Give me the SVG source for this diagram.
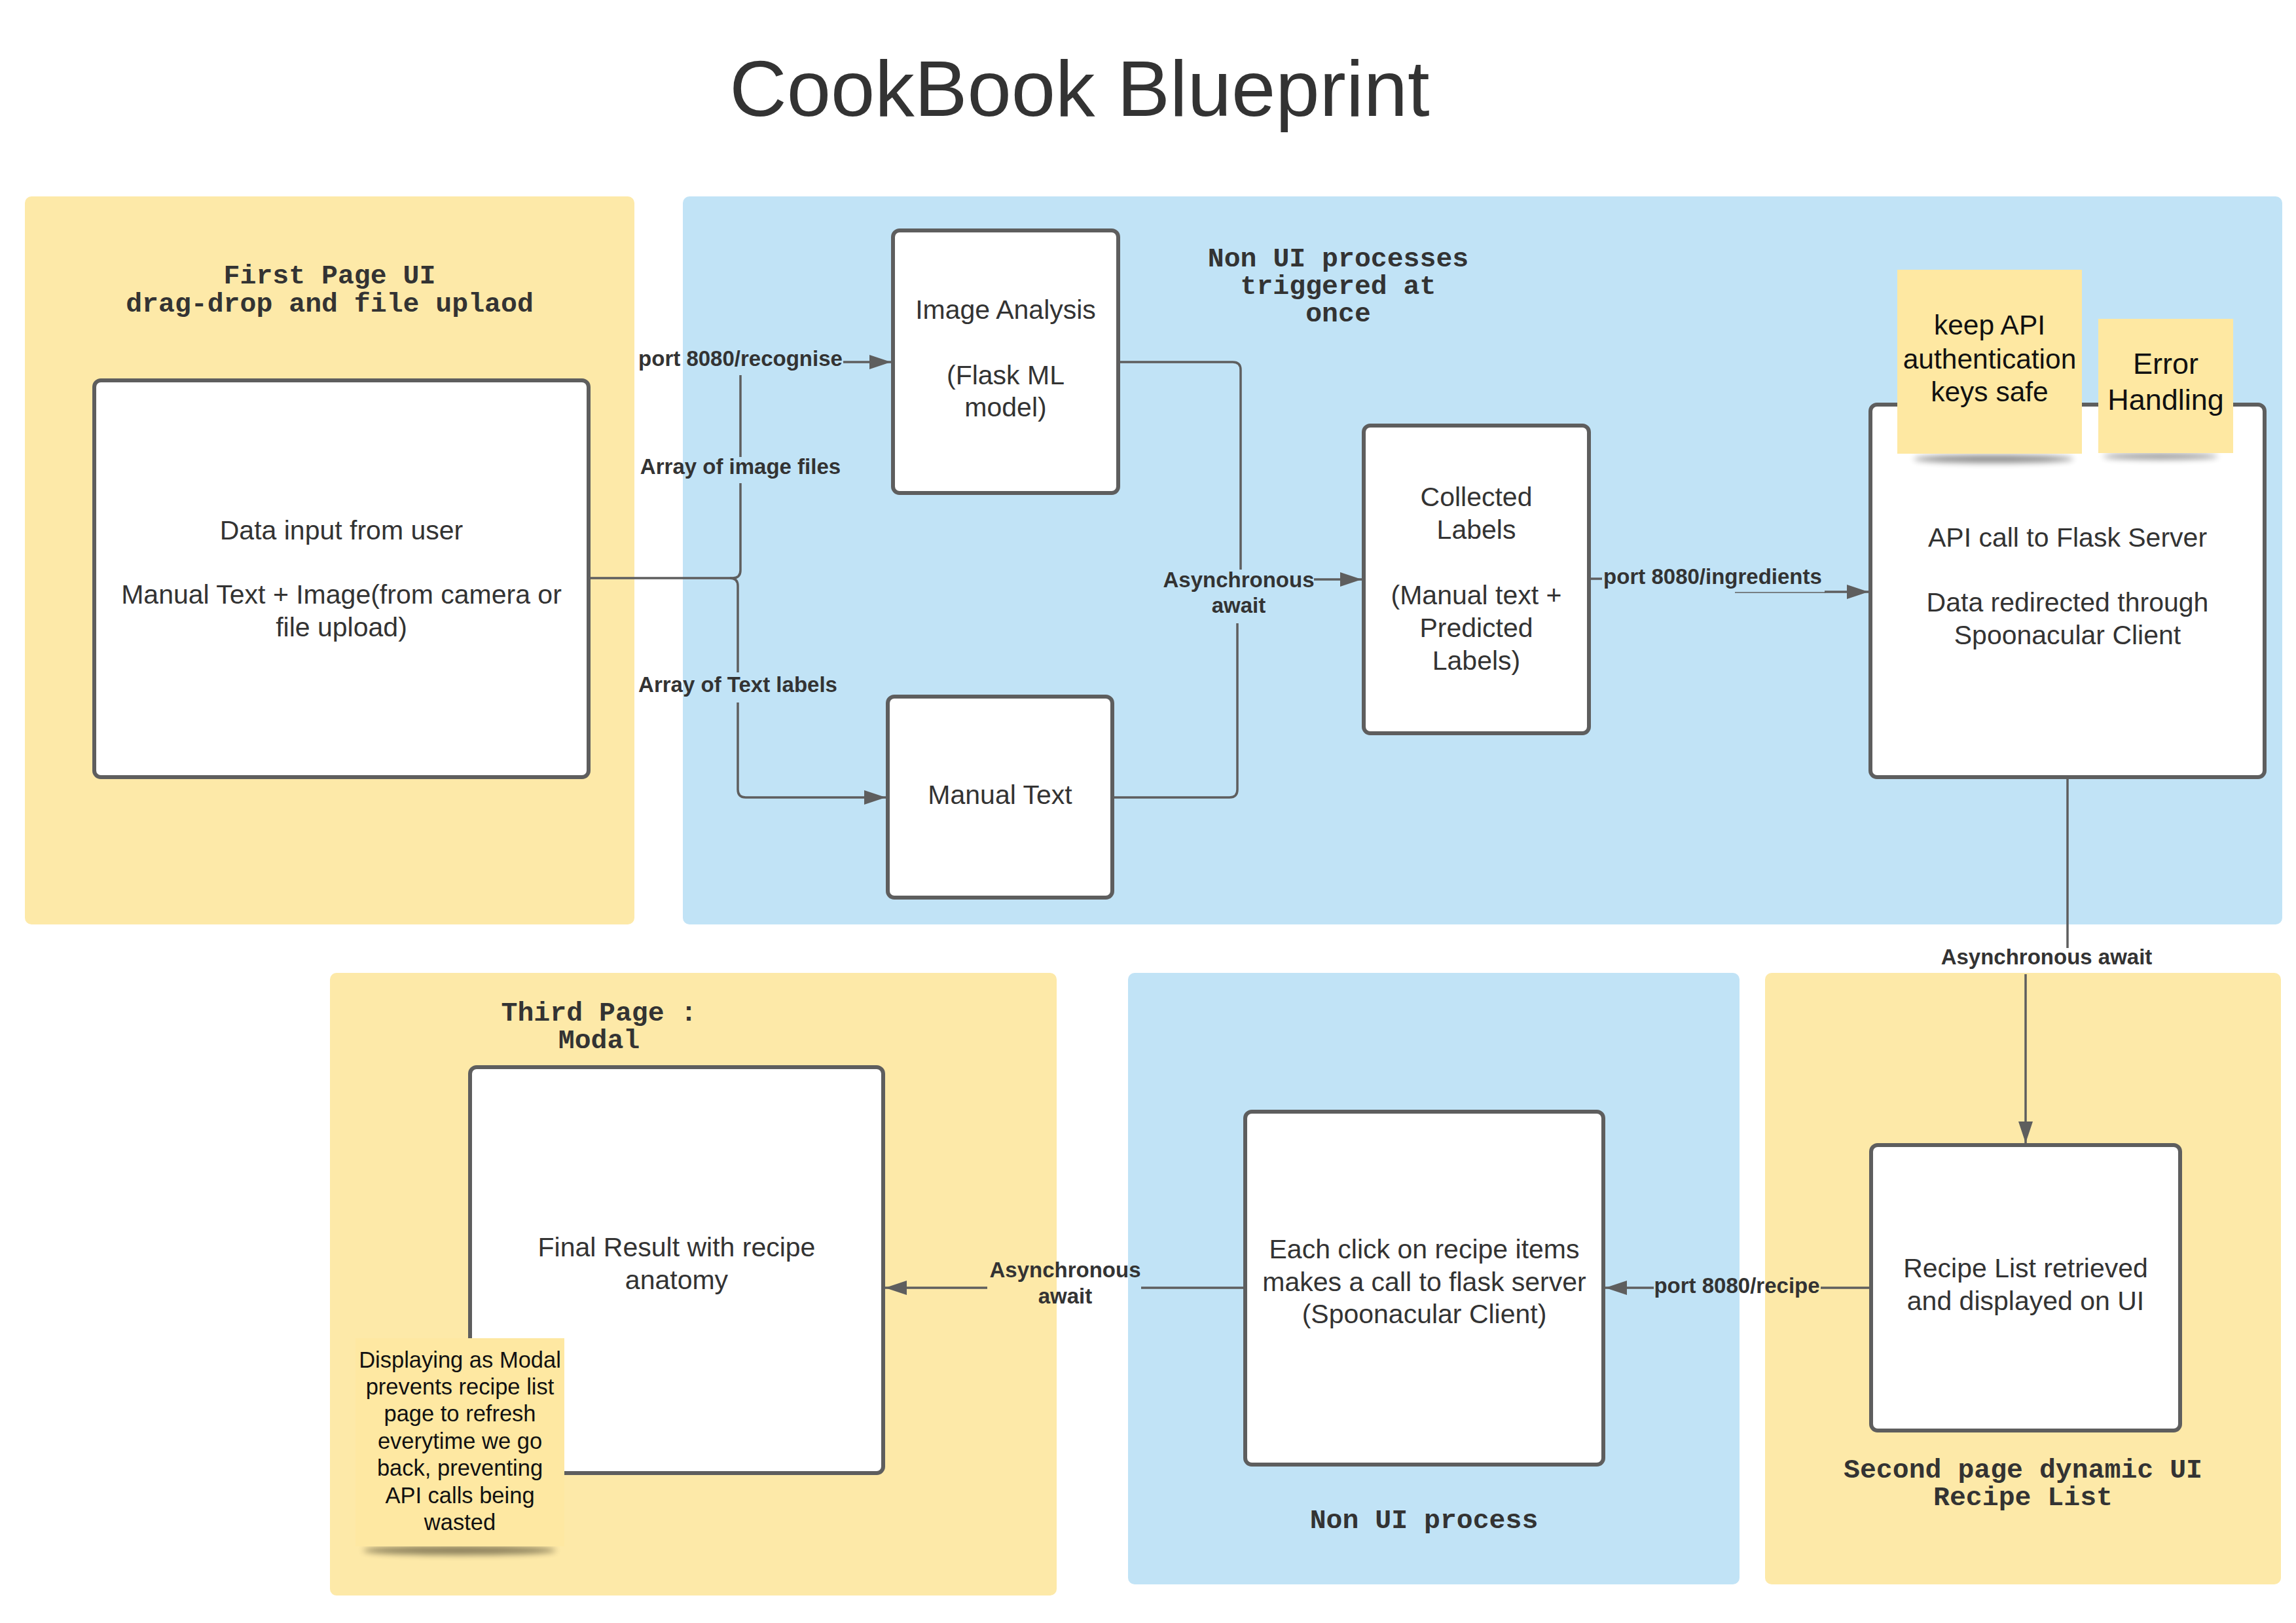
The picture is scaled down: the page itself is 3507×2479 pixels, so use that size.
<svg xmlns="http://www.w3.org/2000/svg" width="3507" height="2479" viewBox="0 0 3507 2479">
<style>
.bgY{fill:#fde9a8}
.bgB{fill:#c1e3f6}
.box{fill:#ffffff;stroke:#5e5e5e;stroke-width:6}
.sticky{fill:#fee8a2}
.t{font-family:"Liberation Sans",Arial,sans-serif;font-size:41px;fill:#333333;text-anchor:middle}
.st{font-family:"Liberation Sans",Arial,sans-serif;fill:#111111;text-anchor:middle}
.h{font-family:"Liberation Mono","Courier New",monospace;font-weight:bold;font-size:41.5px;fill:#333333;text-anchor:middle}
.lbl{font-family:"Liberation Sans",Arial,sans-serif;font-weight:bold;font-size:33px;fill:#333333;text-anchor:middle}
.c{fill:none;stroke:#5e5e5e;stroke-width:3.5}
.ca{fill:none;stroke:#5e5e5e;stroke-width:3.5;marker-end:url(#arr)}
</style>
<defs>
<marker id="arr" markerUnits="userSpaceOnUse" markerWidth="34" markerHeight="22" refX="33" refY="11" orient="auto">
<path d="M0,0 L33,11 L0,22 z" fill="#5e5e5e"/>
</marker>
<filter id="blur" x="-20%" y="-200%" width="140%" height="500%"><feGaussianBlur stdDeviation="5"/></filter>
</defs>
<rect width="3507" height="2479" fill="#ffffff"/>
<text x="1649" y="177" font-family="Liberation Sans,Arial,sans-serif" font-size="121" fill="#333333" text-anchor="middle">CookBook Blueprint</text>

<g id="panels">
<rect id="panel-first-page" class="bgY" x="38" y="300" width="931" height="1112" rx="10"/>
<rect id="panel-non-ui-top" class="bgB" x="1043" y="300" width="2443" height="1112" rx="10"/>
<rect id="panel-third-page" class="bgY" x="504" y="1486" width="1110" height="951" rx="10"/>
<rect id="panel-non-ui-bottom" class="bgB" x="1723" y="1486" width="934" height="934" rx="10"/>
<rect id="panel-second-page" class="bgY" x="2696" y="1486" width="788" height="934" rx="10"/>
<text class="h" x="503.5" y="433">First Page UI<tspan x="503.5" y="476">drag-drop and file uplaod</tspan></text>
<text class="h" x="2044" y="407">Non UI processes<tspan x="2044" y="449">triggered at</tspan><tspan x="2044" y="491">once</tspan></text>
<text class="h" x="915" y="1559">Third Page :<tspan x="915" y="1601">Modal</tspan></text>
<text class="h" x="2175" y="2334">Non UI process</text>
<text class="h" x="3090" y="2257">Second page dynamic UI<tspan x="3090" y="2299">Recipe List</tspan></text>
</g>

<g id="connectors">
<path class="c" d="M899,883 H1119 Q1131,883 1131,871 V738"/>
<path class="c" d="M1131,698 V573"/>
<path class="ca" d="M1288,553 H1361"/>
<path class="c" d="M1115,883 Q1127,883 1127,895 V1027"/>
<path class="ca" d="M1127,1073 V1206 Q1127,1218 1139,1218 H1353"/>
<path class="c" d="M1708,553 H1883 Q1895,553 1895,565 V870"/>
<path class="c" d="M1699,1218 H1878 Q1890,1218 1890,1206 V952"/>
<path class="ca" d="M2007,885 H2080"/>
<path class="c" d="M2427,884 H2447"/>
<path fill="none" stroke="#5e5e5e" stroke-width="1.5" d="M2650,905 H2788"/>
<path class="ca" d="M2787,904 H2854"/>
<path class="c" d="M3158,1187 V1448"/>
<path class="ca" d="M3094,1488 V1746"/>
<path class="c" d="M2858,1967 H2781"/>
<path class="ca" d="M2526,1967 H2452"/>
<path class="c" d="M1902,1967 H1743"/>
<path class="ca" d="M1508,1967 H1352"/>
<text class="lbl" x="1131" y="559">port 8080/recognise</text>
<text class="lbl" x="1131" y="724">Array of image files</text>
<text class="lbl" x="1127" y="1057">Array of Text labels</text>
<text class="lbl" x="1892" y="897">Asynchronous<tspan x="1892" y="936">await</tspan></text>
<text class="lbl" x="2616" y="892">port 8080/ingredients</text>
<text class="lbl" x="3126" y="1473">Asynchronous await</text>
<text class="lbl" x="2653" y="1975">port 8080/recipe</text>
<text class="lbl" x="1627" y="1951">Asynchronous<tspan x="1627" y="1991">await</tspan></text>
</g>

<g id="node-data-input">
<rect class="box" x="144" y="581" width="755" height="606" rx="10"/>
<text class="t" x="521.5" y="824">Data input from user<tspan x="521.5" y="922">Manual Text + Image(from camera or</tspan><tspan x="521.5" y="972">file upload)</tspan></text>
</g>
<g id="node-image-analysis">
<rect class="box" x="1364" y="352" width="344" height="401" rx="10"/>
<text class="t" x="1536" y="487">Image Analysis<tspan x="1536" y="587">(Flask ML</tspan><tspan x="1536" y="636">model)</tspan></text>
</g>
<g id="node-manual-text">
<rect class="box" x="1356" y="1064" width="343" height="307" rx="10"/>
<text class="t" x="1527.5" y="1228">Manual Text</text>
</g>
<g id="node-collected-labels">
<rect class="box" x="2083" y="650" width="344" height="470" rx="10"/>
<text class="t" x="2255" y="773">Collected<tspan x="2255" y="823">Labels</tspan><tspan x="2255" y="923">(Manual text +</tspan><tspan x="2255" y="973">Predicted</tspan><tspan x="2255" y="1023">Labels)</tspan></text>
</g>
<g id="node-api-call">
<rect class="box" x="2857" y="618" width="602" height="569" rx="10"/>
<text class="t" x="3158" y="835">API call to Flask Server<tspan x="3158" y="934">Data redirected through</tspan><tspan x="3158" y="984">Spoonacular Client</tspan></text>
</g>
<g id="note-keep-api">
<ellipse cx="3045" cy="701" rx="122" ry="6" fill="#000" opacity="0.45" filter="url(#blur)"/>
<rect class="sticky" x="2898" y="412" width="282" height="281"/>
<text class="st" font-size="42.5" x="3039" y="511">keep API<tspan x="3039" y="563">authentication</tspan><tspan x="3039" y="613">keys safe</tspan></text>
</g>
<g id="note-error-handling">
<ellipse cx="3300" cy="697" rx="88" ry="5" fill="#000" opacity="0.4" filter="url(#blur)"/>
<rect class="sticky" x="3205" y="487" width="206" height="205"/>
<text class="st" font-size="45" x="3308" y="571">Error<tspan x="3308" y="626">Handling</tspan></text>
</g>
<g id="node-recipe-list">
<rect class="box" x="2858" y="1749" width="472" height="436" rx="10"/>
<text class="t" x="3094" y="1951">Recipe List retrieved<tspan x="3094" y="2001">and displayed on UI</tspan></text>
</g>
<g id="node-each-click">
<rect class="box" x="1902" y="1698" width="547" height="539" rx="10"/>
<text class="t" x="2175.5" y="1922">Each click on recipe items<tspan x="2175.5" y="1972">makes a call to flask server</tspan><tspan x="2175.5" y="2021">(Spoonacular Client)</tspan></text>
</g>
<g id="node-final-result">
<rect class="box" x="718" y="1630" width="631" height="620" rx="10"/>
<text class="t" x="1033.5" y="1919">Final Result with recipe<tspan x="1033.5" y="1969">anatomy</tspan></text>
</g>
<g id="note-modal">
<ellipse cx="702" cy="2368" rx="148" ry="7" fill="#000" opacity="0.45" filter="url(#blur)"/>
<rect class="sticky" x="543" y="2044" width="319" height="318"/>
<text class="st" font-size="34.5" x="702.5" y="2089">Displaying as Modal<tspan x="702.5" y="2130">prevents recipe list</tspan><tspan x="702.5" y="2171">page to refresh</tspan><tspan x="702.5" y="2213">everytime we go</tspan><tspan x="702.5" y="2254">back, preventing</tspan><tspan x="702.5" y="2296">API calls being</tspan><tspan x="702.5" y="2337">wasted</tspan></text>
</g>
</svg>
